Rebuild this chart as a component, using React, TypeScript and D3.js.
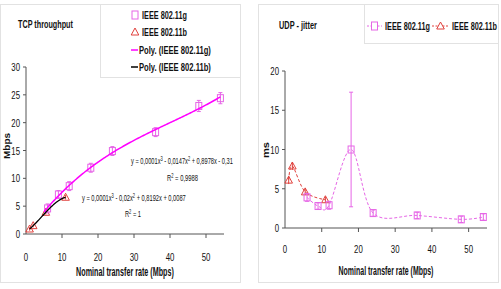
import React, { useEffect, useRef } from 'react';
import * as d3 from 'd3';

// TCP throughput (Mbps) per nominal rate
const tcpRateG = [6, 9, 12, 18, 24, 36, 48, 54];
const tcpThroughputG = [4.6, 7.1, 8.6, 11.9, 14.9, 18.3, 23.0, 24.4];
const tcpErrG = [0.8, 0.7, 0.8, 0.8, 0.8, 0.8, 1.0, 1.0];
const tcpRateB = [1, 2, 5.5, 11];
const tcpThroughputB = [0.9, 1.5, 3.9, 6.6];
const tcpErrB = [0.3, 0.3, 0.4, 0.4];

// UDP jitter (ms) per nominal rate
const udpRateG = [6, 9, 12, 18, 24, 36, 48, 54];
const udpJitterG = [3.9, 2.8, 2.9, 10.0, 1.9, 1.6, 1.1, 1.4];
const udpErrG = [0.5, 0.4, 0.5, 7.3, 0.4, 0.4, 0.4, 0.4];
const udpRateB = [1, 2, 5.5, 11];
const udpJitterB = [6.1, 7.9, 4.6, 3.6];
const udpErrB = [0.5, 0.5, 0.4, 0.4];

const tcpTicksY = [0, 5, 10, 15, 20, 25, 30];
const udpTicksY = [0, 5, 10, 15, 20];
const ticksX = [0, 10, 20, 30, 40, 50];

const FONT = "Arial, 'Liberation Sans', sans-serif";
const MAGENTA = '#ff00ff';
const PINK = '#e666e6';
const RED = '#e0403c';

// least squares cubic, like a spreadsheet poly trendline
function cubicFit(xs: number[], ys: number[]) {
  const n = 4;
  const A: number[][] = Array.from({ length: n }, () => Array(n + 1).fill(0));
  xs.forEach((x, k) => {
    for (let i = 0; i < n; i++) {
      for (let j = 0; j < n; j++) A[i][j] += Math.pow(x, i + j);
      A[i][n] += ys[k] * Math.pow(x, i);
    }
  });
  for (let c = 0; c < n; c++) {
    let p = c;
    for (let r = c + 1; r < n; r++) if (Math.abs(A[r][c]) > Math.abs(A[p][c])) p = r;
    [A[c], A[p]] = [A[p], A[c]];
    for (let r = 0; r < n; r++) {
      if (r === c) continue;
      const f = A[r][c] / A[c][c];
      for (let k = c; k <= n; k++) A[r][k] -= f * A[c][k];
    }
  }
  const coef = A.map((row, i) => row[n] / row[i]);
  return (x: number) => coef[0] + coef[1] * x + coef[2] * x * x + coef[3] * x * x * x;
}

const trianglePath = (cx: number, cy: number) =>
  `M${cx},${cy - 4}L${cx + 3.8},${cy + 3}L${cx - 3.8},${cy + 3}Z`;

type LabelOpts = {
  size?: number; bold?: boolean; anchor?: string; width?: number; sx?: number; rotate?: number;
};

// narrow text: squeeze horizontally, either by a factor or to a given width
function label(g: any, x: number, y: number, s: string | [string, boolean][], o: LabelOpts = {}) {
  const size = o.size ?? 11;
  const wrap = g.append('g').attr('transform', `translate(${x},${y}) rotate(${o.rotate ?? 0})`);
  const t = wrap.append('text').attr('font-size', size).attr('font-family', FONT)
    .attr('font-weight', o.bold ? 'bold' : 'normal').attr('fill', '#111')
    .attr('text-anchor', o.anchor ?? 'start');
  if (typeof s === 'string') {
    t.text(s);
  } else {
    // superscripts are raised 3px; the following part drops back down
    let raised = false;
    s.forEach(([part, sup]) => {
      const dy = sup ? -3 : raised ? 3 : 0;
      raised = sup;
      t.append('tspan').attr('dy', dy).attr('font-size', sup ? size * 0.7 : size).text(part);
    });
  }
  let sx = o.sx ?? 0.68;
  if (o.width) {
    const len = (t.node() as SVGTextElement).getComputedTextLength();
    if (len > 0) sx = o.width / len;
  }
  t.attr('transform', `scale(${sx},1)`);
  return t;
}

const App = () => {
  const ref = useRef<SVGSVGElement>(null);

  useEffect(() => {
    const svg = d3.select(ref.current);
    svg.selectAll('*').remove();

    // panels
    svg.append('rect').attr('x', 0.5).attr('y', 4.5).attr('width', 240).attr('height', 278)
      .attr('fill', '#fff').attr('stroke', '#e2e2e2');
    svg.append('rect').attr('x', 258.5).attr('y', 4.5).attr('width', 240).attr('height', 278)
      .attr('fill', '#fff').attr('stroke', '#e2e2e2');

    const drawAxes = (g: any, x: any, y: any, yTicks: number[], xEnd: number, xLabelY: number) => {
      const [y0] = y.range();
      const [x0] = x.range();
      g.append('line').attr('x1', x0).attr('x2', xEnd).attr('y1', y0).attr('y2', y0)
        .attr('stroke', '#555');
      g.append('line').attr('x1', x0).attr('x2', x0).attr('y1', y0).attr('y2', y(yTicks[yTicks.length - 1]))
        .attr('stroke', '#555');
      ticksX.forEach(t => {
        if (t > 0) {
          g.append('line').attr('x1', x(t)).attr('x2', x(t)).attr('y1', y0).attr('y2', y0 + 4)
            .attr('stroke', '#555');
        }
        label(g, x(t), xLabelY, String(t), { anchor: 'middle', size: 11.5 });
      });
      yTicks.forEach(t => {
        g.append('line').attr('x1', x0 - 3).attr('x2', x0).attr('y1', y(t)).attr('y2', y(t))
          .attr('stroke', '#555');
        label(g, x0 - 6, y(t) + 4, String(t), { anchor: 'end', size: 11.5 });
      });
    };

    const drawSquares = (g: any, xs: number[], ys: number[], errs: number[], x: any, y: any, color: string) => {
      xs.forEach((v, i) => {
        g.append('line').attr('x1', x(v)).attr('x2', x(v))
          .attr('y1', y(ys[i] - errs[i])).attr('y2', y(ys[i] + errs[i])).attr('stroke', color);
        [ys[i] - errs[i], ys[i] + errs[i]].forEach(e => {
          g.append('line').attr('x1', x(v) - 2).attr('x2', x(v) + 2).attr('y1', y(e)).attr('y2', y(e))
            .attr('stroke', color);
        });
        g.append('rect').attr('x', x(v) - 3).attr('y', y(ys[i]) - 3.5).attr('width', 6).attr('height', 7)
          .attr('fill', 'none').attr('stroke', color);
      });
    };

    const drawTriangles = (g: any, xs: number[], ys: number[], errs: number[], x: any, y: any, color: string) => {
      xs.forEach((v, i) => {
        g.append('line').attr('x1', x(v)).attr('x2', x(v))
          .attr('y1', y(ys[i] - errs[i])).attr('y2', y(ys[i] + errs[i])).attr('stroke', color);
        g.append('path').attr('d', trianglePath(x(v), y(ys[i])))
          .attr('fill', 'none').attr('stroke', color);
      });
    };

    // ---- TCP throughput ----
    const left = svg.append('g');
    const x1 = d3.scaleLinear().domain([0, 55]).range([26, 224]);
    const y1 = d3.scaleLinear().domain([0, 30]).range([234, 67]);
    drawAxes(left, x1, y1, tcpTicksY, 224, 261);

    const fitG = cubicFit(tcpRateG, tcpThroughputG);
    const fitB = cubicFit(tcpRateB, tcpThroughputB);
    const curve = (f: (x: number) => number, a: number, b: number) =>
      d3.line<number>().x(v => x1(v)).y(v => y1(f(v)))(d3.range(a, b + 0.01, 0.25));

    drawTriangles(left, tcpRateB, tcpThroughputB, tcpErrB, x1, y1, RED);
    drawSquares(left, tcpRateG, tcpThroughputG, tcpErrG, x1, y1, PINK);
    left.append('path').attr('d', curve(fitG, 5, 54)).attr('fill', 'none')
      .attr('stroke', MAGENTA).attr('stroke-width', 1.5);
    left.append('path').attr('d', curve(fitB, 1, 11)).attr('fill', 'none')
      .attr('stroke', '#000').attr('stroke-width', 1.3);

    label(left, 131, 164, [['y = 0,0001x', false], ['3', true], [' - 0,0147x', false], ['2', true], [' + 0,8978x - 0,31', false]], { size: 9, width: 102 });
    label(left, 167, 181, [['R', false], ['2', true], [' = 0,9988', false]], { size: 9, width: 31 });
    label(left, 82, 201, [['y = 0,0001x', false], ['3', true], [' - 0,02x', false], ['2', true], [' + 0,8192x + 0,0087', false]], { size: 9, width: 104 });
    label(left, 125, 217, [['R', false], ['2', true], [' = 1', false]], { size: 9, width: 16 });

    label(left, 18, 28, 'TCP throughput', { size: 11, bold: true, width: 55 });
    label(left, 9.5, 146, 'Mbps', { size: 9.5, bold: true, anchor: 'middle', rotate: -90, width: 26 });
    label(left, 125, 276, 'Nominal transfer rate (Mbps)', { size: 12, bold: true, anchor: 'middle', width: 98 });

    // legend
    left.append('rect').attr('x', 100.5).attr('y', 4.5).attr('width', 140).attr('height', 73)
      .attr('fill', '#fff').attr('stroke', '#e2e2e2');
    const legendRows = [15, 32, 50, 67];
    const legendText = ['IEEE 802.11g', 'IEEE 802.11b', 'Poly. (IEEE 802.11g)', 'Poly. (IEEE 802.11b)'];
    const legendWidth = [45, 45, 72, 72];
    legendRows.forEach((ly, i) => {
      if (i === 0) {
        left.append('rect').attr('x', 132).attr('y', ly - 4).attr('width', 6).attr('height', 8)
          .attr('fill', 'none').attr('stroke', PINK);
      } else if (i === 1) {
        left.append('path').attr('d', trianglePath(135, ly)).attr('fill', 'none').attr('stroke', RED);
      } else {
        left.append('line').attr('x1', 131).attr('x2', 138).attr('y1', ly).attr('y2', ly)
          .attr('stroke', i === 2 ? MAGENTA : '#000').attr('stroke-width', 1.5);
      }
      label(left, i < 2 ? 142 : 139, ly + 4, legendText[i], { size: 11, bold: true, width: legendWidth[i] });
    });

    // ---- UDP jitter ----
    const right = svg.append('g');
    const x2 = d3.scaleLinear().domain([0, 55]).range([285, 487]);
    const y2 = d3.scaleLinear().domain([0, 20]).range([228, 71]);
    drawAxes(right, x2, y2, udpTicksY, 487, 253);

    const smooth = d3.line<number>().curve(d3.curveCatmullRom.alpha(0));
    right.append('path')
      .attr('d', smooth(udpRateB.map((v, i) => [x2(v), y2(udpJitterB[i])]) as any))
      .attr('fill', 'none').attr('stroke', RED).attr('stroke-dasharray', '3,2');
    right.append('path')
      .attr('d', smooth(udpRateG.map((v, i) => [x2(v), y2(udpJitterG[i])]) as any))
      .attr('fill', 'none').attr('stroke', PINK).attr('stroke-dasharray', '3,2');
    drawTriangles(right, udpRateB, udpJitterB, udpErrB, x2, y2, RED);
    drawSquares(right, udpRateG, udpJitterG, udpErrG, x2, y2, PINK);

    label(right, 279, 29, 'UDP - jitter', { size: 11, bold: true, width: 38 });
    label(right, 269, 150, 'ms', { size: 9.5, bold: true, anchor: 'middle', rotate: -90, width: 16 });
    label(right, 386, 275, 'Nominal transfer rate (Mbps)', { size: 12, bold: true, anchor: 'middle', width: 95 });

    right.append('rect').attr('x', 364.5).attr('y', 4.5).attr('width', 134).attr('height', 39)
      .attr('fill', '#fff').attr('stroke', '#e2e2e2');
    const ly = 26;
    right.append('line').attr('x1', 367).attr('x2', 382).attr('y1', ly).attr('y2', ly)
      .attr('stroke', PINK).attr('stroke-dasharray', '2,1.5');
    right.append('rect').attr('x', 371.5).attr('y', ly - 4).attr('width', 6).attr('height', 8)
      .attr('fill', '#fff').attr('stroke', PINK);
    label(right, 385, ly + 4, 'IEEE 802.11g', { size: 11, bold: true, width: 45 });
    right.append('line').attr('x1', 432).attr('x2', 449).attr('y1', ly).attr('y2', ly)
      .attr('stroke', RED).attr('stroke-dasharray', '2,1.5');
    right.append('path').attr('d', trianglePath(440.5, ly)).attr('fill', '#fff').attr('stroke', RED);
    label(right, 452, ly + 4, 'IEEE 802.11b', { size: 11, bold: true, width: 45 });
  }, []);

  return (
    <svg ref={ref} width={501} height={289}
      style={{ position: 'absolute', left: 0, top: 0, background: '#fff' }} />
  );
};

export default App;
